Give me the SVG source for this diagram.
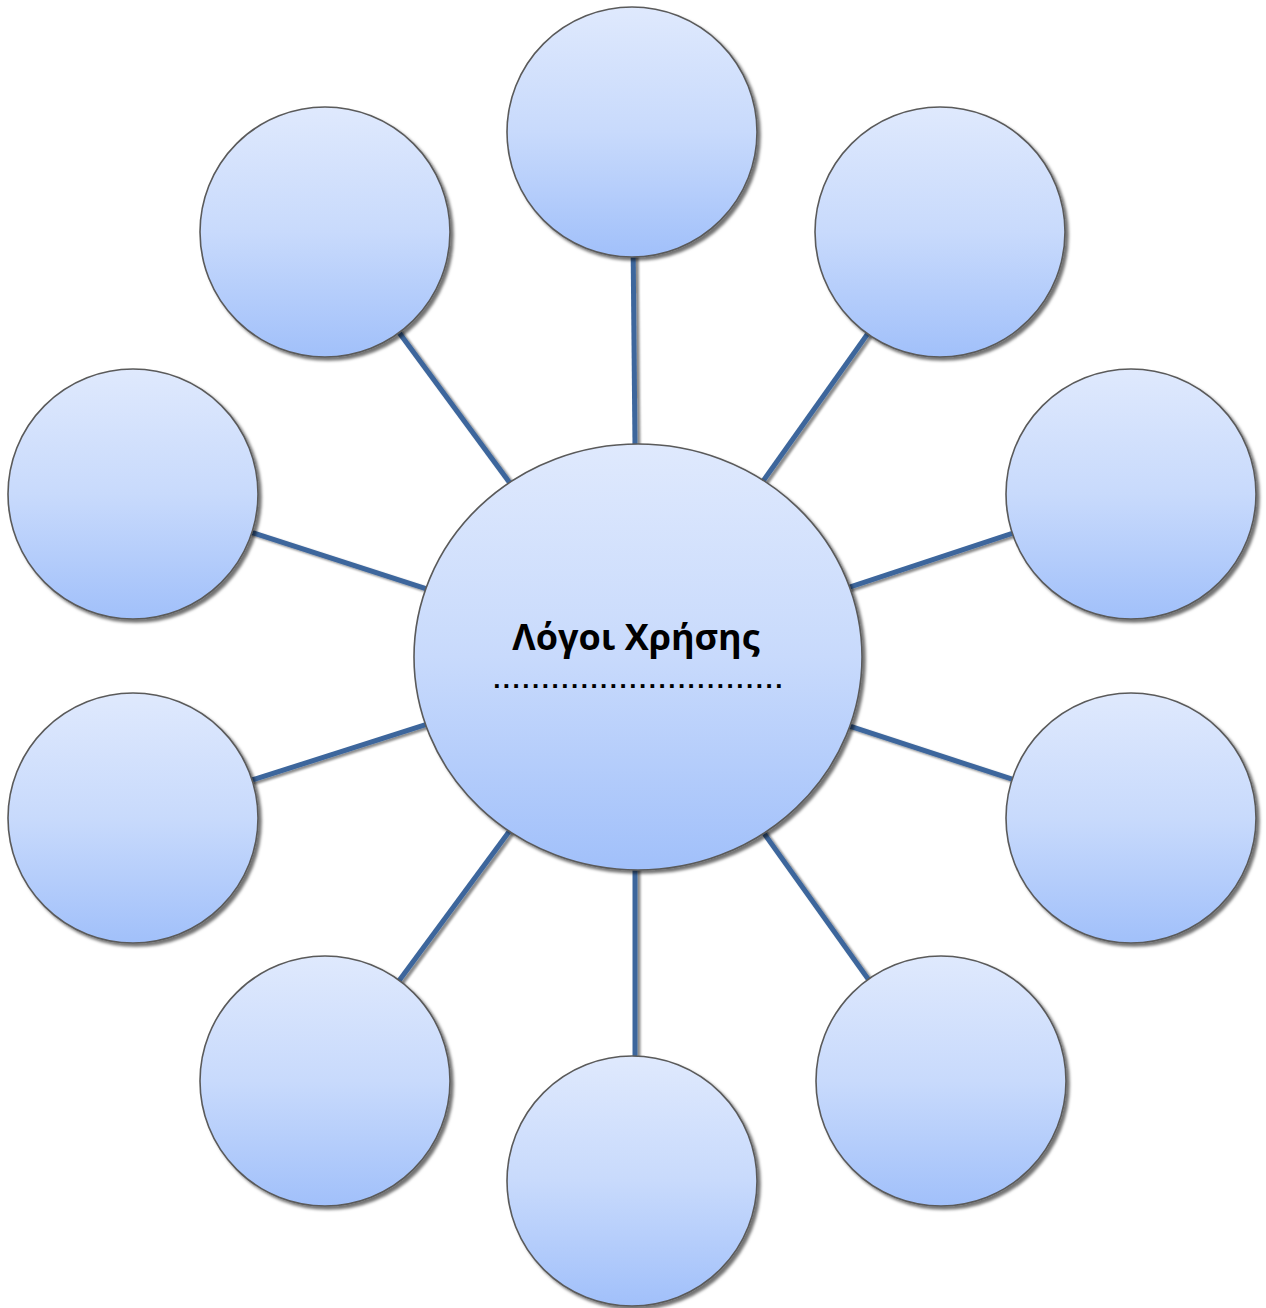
<svg xmlns="http://www.w3.org/2000/svg" width="1266" height="1308" viewBox="0 0 1266 1308">
<defs>
<linearGradient id="g" x1="0" y1="0" x2="0" y2="1">
<stop offset="0" stop-color="#DFE9FD"/>
<stop offset="0.5" stop-color="#C8DAFC"/>
<stop offset="1" stop-color="#A1C0FA"/>
</linearGradient>
<filter id="sh" x="-20%" y="-20%" width="140%" height="140%">
<feDropShadow dx="3" dy="3" stdDeviation="1.5" flood-color="#000" flood-opacity="0.55"/>
</filter>
<filter id="lsh" filterUnits="userSpaceOnUse" x="0" y="0" width="1266" height="1308">
<feDropShadow dx="3" dy="2" stdDeviation="1" flood-color="#000" flood-opacity="0.45"/>
</filter>
</defs>
<style>
.n{fill:url(#g);stroke:#5a5a5a;stroke-width:1.6;filter:url(#sh)}
.c line{stroke:#3D669C;stroke-width:5}
.t{font-family:"Open Sans","Liberation Sans",sans-serif;font-weight:bold;font-size:36px;fill:#000}
.d{font-family:"Liberation Sans",sans-serif;font-weight:bold;font-size:26px;letter-spacing:2.5px;fill:#000}
</style>
<rect width="1266" height="1308" fill="#fff"/>
<g id="connectors" class="c" filter="url(#lsh)">
<line x1="632" y1="132" x2="637" y2="657"/>
<line x1="940" y1="232" x2="638" y2="657"/>
<line x1="1131" y1="494" x2="638" y2="657"/>
<line x1="1131" y1="818" x2="638" y2="657"/>
<line x1="941" y1="1081" x2="638" y2="657"/>
<line x1="635" y1="1181" x2="635" y2="657"/>
<line x1="325" y1="1081" x2="638" y2="657"/>
<line x1="133" y1="818" x2="638" y2="657"/>
<line x1="133" y1="494" x2="638" y2="657"/>
<line x1="325" y1="232" x2="638" y2="657"/>
</g>
<g id="n-top"><circle class="n" cx="632" cy="132" r="125"/></g>
<g id="n-top-right"><circle class="n" cx="940" cy="232" r="125"/></g>
<g id="n-right-upper"><circle class="n" cx="1131" cy="494" r="125"/></g>
<g id="n-right-lower"><circle class="n" cx="1131" cy="818" r="125"/></g>
<g id="n-bottom-right"><circle class="n" cx="941" cy="1081" r="125"/></g>
<g id="n-bottom"><circle class="n" cx="632" cy="1181" r="125"/></g>
<g id="n-bottom-left"><circle class="n" cx="325" cy="1081" r="125"/></g>
<g id="n-left-lower"><circle class="n" cx="133" cy="818" r="125"/></g>
<g id="n-left-upper"><circle class="n" cx="133" cy="494" r="125"/></g>
<g id="n-top-left"><circle class="n" cx="325" cy="232" r="125"/></g>
<g id="n-center">
<ellipse class="n" cx="638" cy="657" rx="224" ry="213"/>
<text class="t" x="636" y="650" text-anchor="middle">Λόγοι Χρήσης</text>
<text class="d" x="639" y="688" text-anchor="middle">..............................</text>
</g>
</svg>
